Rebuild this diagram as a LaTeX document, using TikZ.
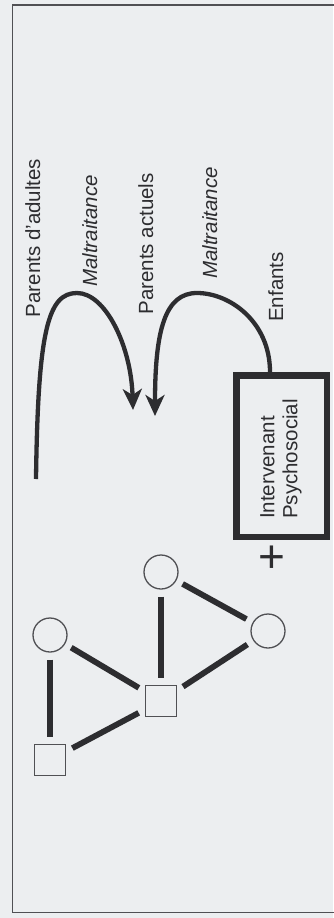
\documentclass[tikz,border=0pt]{standalone}
\usepackage{fontspec}
\setmainfont{Liberation Sans}
\usetikzlibrary{arrows.meta,calc}
\definecolor{bgc}{RGB}{236,238,240}
\definecolor{ink}{RGB}{45,45,48}
\definecolor{thin}{RGB}{80,80,84}
\begin{document}
\begin{tikzpicture}[x=1pt,y=-1pt,
  lbl/.style={rotate=90,anchor=base,inner sep=0pt,text=ink,font=\fontsize{20.5}{23}\selectfont},
  circ/.style={circle,draw=thin,line width=1.3pt,minimum size=34pt,inner sep=0pt},
  sq/.style={rectangle,draw=thin,line width=1.3pt,minimum size=31pt,inner sep=0pt},
  tie/.style={draw=ink,line width=5.8pt,shorten <=7pt,shorten >=7pt},
  hook/.style={draw=ink,line width=4.3pt,-{Stealth[length=21pt,width=19pt,inset=6pt]}},
  frame/.style={draw=thin,line width=1.3pt}
]
\useasboundingbox (0,0) rectangle (333,918);
\fill[bgc] (0,0) rectangle (333,918);
\draw[frame] (340,5) -- (12.5,5) -- (12.5,912.5) -- (340,912.5);

% labels
\node[lbl] (pa) at (40,238) {Parents d'adultes};
\node[lbl,font=\fontsize{20.5}{23}\selectfont\itshape] (m1) at (97,231) {Maltraitance};
\node[lbl] (pc) at (153,244) {Parents actuels};
\node[lbl,font=\fontsize{20.5}{23}\selectfont\itshape] (m2) at (217,223) {Maltraitance};
\node[lbl] (en) at (283,287) {Enfants};

% box
\node[rectangle,draw=ink,line width=6.5pt,minimum width=90.5pt,minimum height=161.5pt,inner sep=0pt] (box) at (281.5,456) {};
\node[rotate=90,align=left,inner sep=0pt,text=ink,font=\fontsize{20.5}{23}\selectfont] (boxtext) at (281,459) {Intervenant\\Psychosocial};
\node[text=ink,inner sep=0pt,font=\fontsize{46}{46}\selectfont] (plus) at (272,559) {+};

% hooks
\coordinate (s1) at (36,479);
\coordinate (t1) at (133,410);
\coordinate (t2) at (155,416);
\coordinate (s2) at ([xshift=-11.5pt]box.north);
\draw[hook] (s1) .. controls (38,330) and (48,293) .. (77,293) .. controls (105,293) and (131,345) .. (t1);
\draw[hook] (s2) .. controls (270,322) and (230,293) .. (197,293) .. controls (165,293) and (155,330) .. (t2);

% genogram
\node[circ] (c1) at (50,635) {};
\node[sq] (q1) at (50,760) {};
\node[sq] (q2) at (161,701) {};
\node[circ] (c2) at (161,572) {};
\node[circ] (c3) at (268,631) {};
\draw[tie] (c1) -- (q1);
\draw[tie] (c1) -- (q2);
\draw[tie] (q1) -- (q2);
\draw[tie] (c2) -- (q2);
\draw[tie] (c2) -- (c3);
\draw[tie] (c3) -- (q2);
\end{tikzpicture}
\end{document}
